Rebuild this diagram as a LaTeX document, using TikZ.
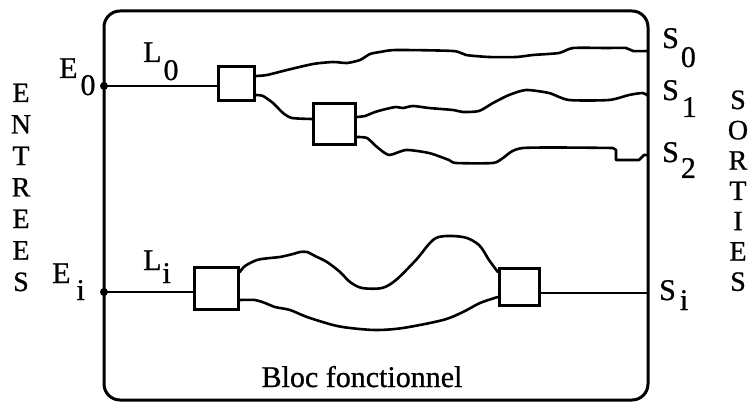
\documentclass[tikz,border=0pt]{standalone}
\usepackage{fontspec}
\setmainfont[FakeBold=0.6]{Liberation Serif}
\newfontfamily\thickserif[FakeBold=0.8]{Liberation Serif}
\begin{document}
\begin{tikzpicture}[x=1pt,y=-1pt,
  frame/.style={line width=3pt, rounded corners=16pt},
  blk/.style={draw, line width=2.8pt, inner sep=0pt},
  wire/.style={line width=2.6pt, line join=round, line cap=round},
  thinwire/.style={line width=2.2pt},
  lab/.style={font=\thickserif\fontsize{30}{32}\selectfont, inner sep=0pt, anchor=base west},
  vlet/.style={font=\thickserif\fontsize{28}{30}\selectfont, inner sep=0pt, anchor=base},
  title/.style={font=\thickserif\fontsize{30}{32}\selectfont, inner sep=0pt, anchor=base},
]
\useasboundingbox (0,0) rectangle (756,404);
% frame
\draw[frame] (104,11) rectangle (648,400);
% blocks
\node[blk, minimum width=36.5pt, minimum height=34.5pt] (b1) at (236.5,83.5) {};
\node[blk, minimum width=42pt, minimum height=41.5pt] (b2) at (334.5,124) {};
\node[blk, minimum width=44pt, minimum height=42.5pt] (b3) at (216.5,288.5) {};
\node[blk, minimum width=40.5pt, minimum height=37.5pt] (b4) at (519.5,287) {};
% terminals
\coordinate (e0) at (104,86);
\coordinate (ei) at (104,292);
\coordinate (s0) at (648,51);
\coordinate (s1) at (648,96);
\coordinate (s2) at (648,155);
\coordinate (si) at (648,293);
\fill (e0) circle (4);
\fill (ei) circle (4);
% block ports
\coordinate (b1o1) at ([yshift=7.5pt]b1.east);
\coordinate (b1o2) at ([yshift=-11.5pt]b1.east);
\coordinate (b2i)  at ([yshift=5pt]b2.west);
\coordinate (b2o1) at ([yshift=7pt]b2.east);
\coordinate (b2o2) at ([yshift=-13pt]b2.east);
\coordinate (b3o1) at ([yshift=16.5pt]b3.east);
\coordinate (b3o2) at ([yshift=-11.5pt]b3.east);
\coordinate (b4i1) at ([yshift=15pt]b4.west);
\coordinate (b4i2) at ([yshift=-10pt]b4.west);
% straight wires
\draw[thinwire] (e0) -- (e0 -| b1.west);
\draw[thinwire] (ei) -- (ei -| b3.west);
\draw[thinwire] (b4.east |- si) -- (si);
% upper wiggly wires
\draw[wire] plot[smooth, tension=0.4] coordinates {(b1o1) (267,75) (287,70) (313,64) (333,62) (347,63) (360,60) (370,54) (380,52) (396,50) (453,51) (466,55) (489,57) (516,57) (533,55) (559,53) (573,48) (606,48) (626,48) (633,51) (s0)};
\draw[wire] plot[smooth, tension=0.4] coordinates {(b1o2) (263,96) (273,103) (283,113) (292,118) (b2i)};
\draw[wire] plot[smooth, tension=0.4] coordinates {(b2o1) (365,116) (375,112) (386,109) (396,107) (403,108) (413,106) (429,108) (453,110) (463,112) (479,111) (493,103) (509,95) (526,90) (549,93) (569,100) (609,100) (629,95) (643,93) (s1)};
\draw[wire] plot[smooth, tension=0.4] coordinates {(b2o2) (367,138) (377,147) (389,155) (406,150) (429,153) (449,160) (456,163) (493,163) (503,158) (523,148) (613,148)} -- (616,150) -- (616,160) -- (639,160) -- (644,155) -- (s2);
% lower wiggly wires
\draw[wire] plot[smooth, tension=0.5] coordinates {(b3o1) (245,266) (257,260) (270,258) (280,257) (293,254) (300,252) (307,252) (315,256) (327,262) (340,272) (350,282) (362,288) (382,288) (396,280) (416,260) (436,238) (463,237) (479,245) (489,260) (b4i1)};
\draw[wire] plot[smooth, tension=0.5] coordinates {(b3o2) (255,300) (265,303) (275,307) (290,310) (307,317) (333,325) (350,328) (376,330) (403,328) (443,320) (463,312) (480,303) (b4i2)};
% labels
\node[lab] (lE0) at (59,78) {E\kern3pt\raisebox{-17pt}{0}};
\node[lab] (lL0) at (143,62) {L\kern2pt\raisebox{-18pt}{0}};
\node[lab] (lEi) at (52,283) {E\kern6pt\raisebox{-17pt}{i}};
\node[lab] (lLi) at (143,270) {L\kern1pt\raisebox{-13pt}{i}};
\node[lab] (lS0) at (662,48) {S\kern2pt\raisebox{-19pt}{0}};
\node[lab] (lS1) at (662,100) {S\kern3pt\raisebox{-17pt}{1}};
\node[lab] (lS2) at (662,162) {S\kern2pt\raisebox{-16pt}{2}};
\node[lab] (lSi) at (659,300) {S\kern4pt\raisebox{-10pt}{i}};
\foreach \c [count=\k] in {E,N,T,R,E,E,S}
  \node[vlet] (en\k) at (21,{102+31.5*(\k-1)}) {\c};
\foreach \c [count=\k] in {S,O,R,T,I,E,S}
  \node[vlet] (so\k) at (738,{109+30.3*(\k-1)}) {\c};
\node[title] (bloc) at (362,387) {Bloc fonctionnel};
\end{tikzpicture}
\end{document}
